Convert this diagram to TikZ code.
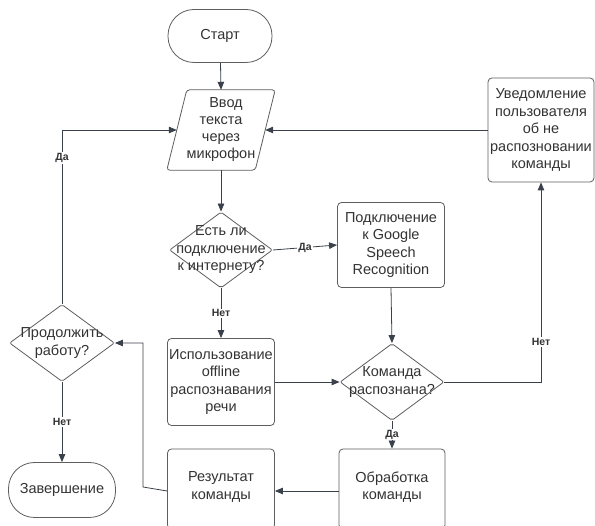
\documentclass[tikz,border=0pt]{standalone}
\usepackage{fontspec}
\setmainfont{Liberation Sans}
\usetikzlibrary{arrows.meta,shapes.geometric}
\definecolor{edgecol}{HTML}{5E5E5E}
\definecolor{linecol}{HTML}{3A414A}
\definecolor{txtcol}{HTML}{333333}
\tikzset{
  base/.style={draw=edgecol, line width=0.8pt, text=txtcol, align=center, inner sep=0pt,
    font=\fontsize{14.5}{17.5}\selectfont},
  procbox/.style={base, rectangle, rounded corners=4pt, minimum width=#1},
  procbox/.default=107pt,
  term/.style={base, rectangle, rounded corners=26pt, minimum width=104pt, minimum height=53pt},
  decision/.style={base, diamond, minimum width=104pt, minimum height=77pt, rounded corners=2pt},
  dtext/.style={text=txtcol, align=center, inner sep=0pt, font=\fontsize{14.5}{17.5}\selectfont},
  ghost/.style={rectangle, inner sep=0pt, text=txtcol, align=center, font=\fontsize{14.5}{17}\selectfont},
  flow/.style={draw=linecol, line width=0.8pt, -{Triangle[length=8pt,width=6.5pt]}},
  lbl/.style={fill=white, text=txtcol, inner sep=1pt, font=\fontsize{10.5}{12}\selectfont\bfseries}
}
\begin{document}
\begin{tikzpicture}[x=1pt,y=-1pt]
\useasboundingbox (0,0) rectangle (595,526);
\clip (0,0) rectangle (595,526);
\fill[white] (0,0) rectangle (595,526);

% terminals
\node[term] (start) at (220,36) {Старт};
\node[term, minimum width=107pt, minimum height=55pt] (finish) at (62,490) {Завершение};

% input parallelogram
\node[ghost, minimum width=88pt, minimum height=80pt] (inp) at (221,130)
  {\hspace{10pt}Ввод\\текста\\через\\микрофон};
\draw[draw=edgecol, line width=0.8pt, rounded corners=3pt]
  ([xshift=10pt]inp.north west) -- ([xshift=10pt]inp.north east)
  -- ([xshift=-10pt]inp.south east) -- ([xshift=-10pt]inp.south west) -- cycle;

% decisions
\node[decision, minimum width=103pt, minimum height=76pt] (net) at (221,250) {};
\node[dtext] at (net) {Есть ли\\подключение\\к интернету?};
\node[decision] (ok) at (392,382) {};
\node[dtext] at (ok) {Команда\\распознана?};
\node[decision, minimum width=105pt] (again) at (62,343) {};
\node[dtext] at (again) {Продолжить\\работу?};

% process boxes
\node[procbox, minimum height=85pt] (google) at (391,245) {Подключение\\к Google\\Speech\\Recognition};
\node[procbox, minimum height=87pt] (offline) at (221,382) {Использование\\offline\\распознавания\\речи};
\node[procbox=106pt, minimum height=104pt] (notify) at (541,130) {Уведомление\\пользователя\\об не\\распозновании\\команды};
\node[procbox=106pt, minimum height=80pt] (proc) at (392,489) {};
\node[dtext] at (392,487) {Обработка\\команды};
\node[procbox, minimum height=80pt] (result) at (221,489) {};
\node[dtext] at (221,487) {Результат\\команды};

% connectors
\draw[flow] (start) -- (inp.north);
\draw[flow] (inp.south) -- (net.north);
\draw[flow] (net.east) -- node[lbl] {Да} (google.west);
\draw[flow] (net.south) -- node[lbl] {Нет} (offline.north);
\draw[flow] (google.south) -- (ok.north);
\draw[flow] (offline.east) -- (ok.west);
\draw[flow] (ok.south) -- node[lbl] {Да} (proc.north);
\draw[flow] (ok.east) -| node[lbl, pos=0.6] {Нет} (notify.south);
\draw[flow] (notify.west) -- (inp.east);
\draw[flow] ([yshift=-2pt]proc.west) -- ([yshift=-2pt]result.east);
\coordinate (bend) at (143,487);
\draw[flow] ([yshift=-2pt]result.west) -- (bend) |- (again.east);
\draw[flow] (again.north) |- node[lbl, pos=0.42] {Да} (inp.west);
\draw[flow] (again.south) -- node[lbl] {Нет} (finish.north);
\end{tikzpicture}
\end{document}
